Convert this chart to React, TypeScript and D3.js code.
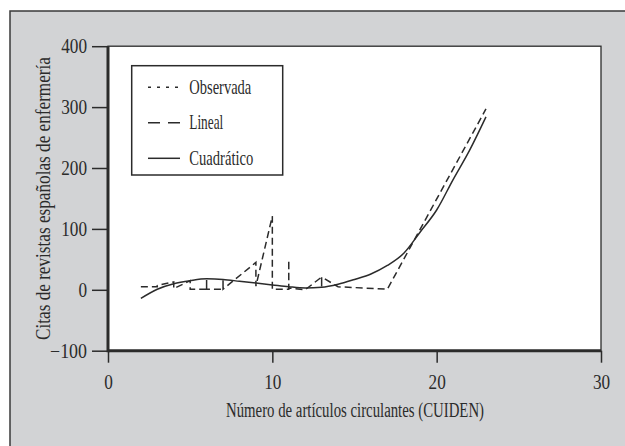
import { useEffect, useRef } from "react";
import * as d3 from "d3";

// Observed series (zig-zag), x = articles, y = citations
const obsX = [2, 3, 3, 4, 4, 5, 5, 6, 6, 6, 7, 7, 7, 9, 9, 10, 10, 11, 11, 11, 12, 13, 13, 13, 14, 17, 23];
const obsY = [5, 5, 7, 13, 2, 15, 1, 1, 16, 1, 1, 16, 1, 45, 6, 121, 1, 1, 49, 3, 0, 21, 4, 21, 5, 1, 297];

// Quadratic fit values
const fitX = [2, 3, 4, 5, 6, 7, 8, 9, 10, 11, 12, 13, 14, 15, 16, 17, 18, 19, 20, 21, 22, 23];
const fitY = [-14, 1, 10, 15, 18, 17, 14, 11, 8, 5, 3, 4, 9, 17, 26, 40, 60, 95, 131, 181, 229, 284];

const xTicks = [0, 10, 20, 30];
const yTicks = [-100, 0, 100, 200, 300, 400];

const legendItems = ["Observada", "Lineal", "Cuadrático"];
const legendDash = ["3,6", "12,8", null];
const legendWidths = [62, 34, 64];

const FONT = "'Liberation Serif', 'DejaVu Serif', serif";
const INK = "#2b2b2b";

const App = () => {
  const ref = useRef<SVGSVGElement>(null);

  useEffect(() => {
    const width = 625, height = 446;
    const box = { left: 108, right: 601, top: 46.2, bottom: 350.7 };

    const svg = d3.select(ref.current);
    svg.selectAll("*").remove();
    svg.attr("width", width).attr("height", height);

    svg.append("rect").attr("width", width).attr("height", height).attr("fill", "#fff");
    svg.append("rect")
      .attr("x", 10).attr("y", 11)
      .attr("width", 640).attr("height", 460)
      .attr("fill", "#d2d3d5")
      .attr("stroke", "#3a3a3a").attr("stroke-width", 1.5);

    const x = d3.scaleLinear().domain([0, 30]).range([box.left, box.right]);
    const y = d3.scaleLinear().domain([-100, 400]).range([box.bottom, box.top]);

    // plot area
    svg.append("rect")
      .attr("x", box.left).attr("y", box.top)
      .attr("width", box.right - box.left).attr("height", box.bottom - box.top)
      .attr("fill", "#fff")
      .attr("stroke", INK).attr("stroke-width", 1.3);

    // axes
    const yAxis = svg.append("g")
      .attr("transform", `translate(${box.left},0)`)
      .call(d3.axisLeft(y).tickValues(yTicks).tickSize(16).tickPadding(5).tickFormat(d3.format("d")));
    const xAxis = svg.append("g")
      .attr("transform", `translate(0,${box.bottom})`)
      .call(d3.axisBottom(x).tickValues(xTicks).tickSize(12).tickPadding(12).tickFormat(d3.format("d")));

    [yAxis, xAxis].forEach(g => {
      g.select(".domain").remove();
      g.selectAll("line").attr("stroke", INK).attr("stroke-width", 1.5);
      g.selectAll<SVGTextElement, number>("text")
        .attr("fill", INK)
        .attr("font-family", FONT)
        .attr("font-size", 20)
        .attr("textLength", d => (String(d).length + (d < 0 ? 0.3 : 0)) * 8.6)
        .attr("lengthAdjust", "spacingAndGlyphs");
    });

    // thick left and bottom axis lines
    svg.append("line")
      .attr("x1", box.left).attr("x2", box.left)
      .attr("y1", box.top).attr("y2", box.bottom + 1.5)
      .attr("stroke", INK).attr("stroke-width", 3);
    svg.append("line")
      .attr("x1", box.left).attr("x2", box.right)
      .attr("y1", box.bottom).attr("y2", box.bottom)
      .attr("stroke", INK).attr("stroke-width", 3);

    // axis titles
    svg.append("text")
      .attr("x", 355).attr("y", 417)
      .attr("text-anchor", "middle")
      .attr("font-family", FONT).attr("font-size", 20)
      .attr("fill", INK)
      .attr("textLength", 258).attr("lengthAdjust", "spacingAndGlyphs")
      .text("Número de artículos circulantes (CUIDEN)");

    svg.append("text")
      .attr("transform", "translate(50,198.5) rotate(-90)")
      .attr("text-anchor", "middle")
      .attr("font-family", FONT).attr("font-size", 20)
      .attr("fill", INK)
      .attr("textLength", 283).attr("lengthAdjust", "spacingAndGlyphs")
      .text("Citas de revistas españolas de enfermería");

    // lines
    const line = d3.line<number>()
      .x((_, i) => x(obsX[i]))
      .y(d => y(d));
    svg.append("path")
      .datum(obsY)
      .attr("fill", "none")
      .attr("stroke", INK)
      .attr("stroke-width", 1.5)
      .attr("stroke-dasharray", "7,4")
      .attr("d", line);

    const fitLine = d3.line<number>()
      .x((_, i) => x(fitX[i]))
      .y(d => y(d))
      .curve(d3.curveMonotoneX);
    svg.append("path")
      .datum(fitY)
      .attr("fill", "none")
      .attr("stroke", INK)
      .attr("stroke-width", 1.5)
      .attr("d", fitLine);

    // legend
    const legend = svg.append("g").attr("transform", "translate(131.7,65.7)");
    legend.append("rect")
      .attr("width", 151).attr("height", 109.3)
      .attr("fill", "#fff")
      .attr("stroke", INK).attr("stroke-width", 1.5);
    legendItems.forEach((name, i) => {
      const cy = 21.6 + i * 35.5;
      legend.append("line")
        .attr("x1", 16.3).attr("x2", 48.3)
        .attr("y1", cy).attr("y2", cy)
        .attr("stroke", INK).attr("stroke-width", 1.5)
        .attr("stroke-dasharray", legendDash[i]);
      legend.append("text")
        .attr("x", 57.6).attr("y", cy + 6.5)
        .attr("font-family", FONT).attr("font-size", 22)
        .attr("fill", INK)
        .attr("textLength", legendWidths[i]).attr("lengthAdjust", "spacingAndGlyphs")
        .text(name);
    });
  }, []);

  return <svg ref={ref} style={{ position: "absolute", left: 0, top: 0, display: "block" }}></svg>;
};

export default App;
